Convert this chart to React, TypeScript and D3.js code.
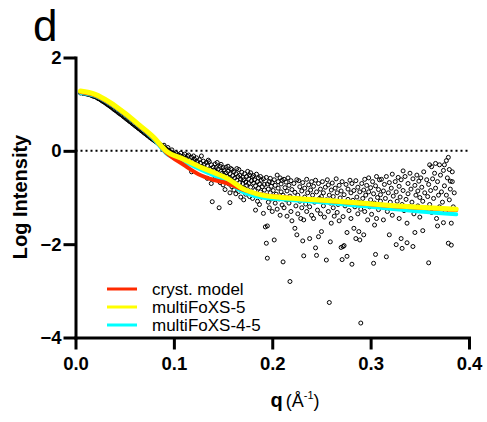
import React, { useEffect, useRef } from "react";
import * as d3 from "d3";

const xTicks = [0, 0.1, 0.2, 0.3, 0.4];
const yTicks = [-4, -2, 0, 2];

const qCurve = [0.005, 0.02, 0.035, 0.05, 0.065, 0.08, 0.092, 0.11, 0.125, 0.14, 0.155, 0.17, 0.19, 0.21, 0.23, 0.26, 0.29, 0.32, 0.35, 0.387];
const crystModel = [1.26, 1.19, 1.02, 0.79, 0.53, 0.26, -0.03, -0.3, -0.5, -0.62, -0.7, -0.83, -0.94, -0.99, -1.03, -1.08, -1.13, -1.18, -1.22, -1.27];
const multiFoXS5 = [1.28, 1.21, 1.04, 0.81, 0.55, 0.28, 0.0, -0.18, -0.33, -0.46, -0.6, -0.81, -0.95, -1.0, -1.03, -1.07, -1.12, -1.17, -1.21, -1.25];
const multiFoXS45 = [1.24, 1.18, 1.01, 0.78, 0.52, 0.24, -0.05, -0.22, -0.38, -0.52, -0.68, -0.88, -1.0, -1.04, -1.07, -1.12, -1.18, -1.24, -1.3, -1.36];

const seriesNames = ["cryst. model", "multiFoXS-5", "multiFoXS-4-5"];
const seriesColors = ["#ff2a00", "#ffff00", "#00ffff"];

const scatter: [number, number][] = [
  [0.005, 1.24], [0.006, 1.25], [0.007, 1.24], [0.008, 1.23], [0.009, 1.24], [0.01, 1.23], [0.011, 1.22], [0.012, 1.22],
  [0.013, 1.21], [0.014, 1.21], [0.015, 1.2], [0.016, 1.19], [0.017, 1.19], [0.018, 1.17], [0.019, 1.17], [0.02, 1.16],
  [0.021, 1.15], [0.022, 1.14], [0.023, 1.12], [0.024, 1.12], [0.025, 1.1], [0.026, 1.09], [0.027, 1.07], [0.028, 1.06],
  [0.029, 1.05], [0.03, 1.03], [0.031, 1.02], [0.032, 1.0], [0.033, 0.99], [0.034, 0.97], [0.035, 0.96], [0.036, 0.94],
  [0.037, 0.93], [0.038, 0.91], [0.039, 0.89], [0.04, 0.88], [0.041, 0.86], [0.042, 0.85], [0.043, 0.83], [0.044, 0.81],
  [0.045, 0.8], [0.046, 0.78], [0.047, 0.77], [0.048, 0.75], [0.049, 0.73], [0.05, 0.72], [0.051, 0.7], [0.052, 0.68],
  [0.053, 0.67], [0.054, 0.65], [0.055, 0.63], [0.056, 0.62], [0.057, 0.6], [0.058, 0.58], [0.059, 0.57], [0.06, 0.55],
  [0.061, 0.53], [0.062, 0.52], [0.063, 0.5], [0.064, 0.48], [0.065, 0.47], [0.066, 0.45], [0.067, 0.43], [0.068, 0.42],
  [0.069, 0.4], [0.07, 0.38], [0.071, 0.37], [0.072, 0.35], [0.073, 0.33], [0.074, 0.32], [0.075, 0.3], [0.076, 0.28],
  [0.077, 0.27], [0.078, 0.25], [0.079, 0.24], [0.08, 0.22], [0.081, 0.21], [0.082, 0.19], [0.083, 0.18], [0.084, 0.16],
  [0.085, 0.15], [0.086, 0.13], [0.087, 0.12], [0.088, 0.1], [0.089, 0.09], [0.09, 0.07], [0.09, 0.12], [0.091, 0.06],
  [0.092, 0.04], [0.093, 0.03], [0.094, 0.07], [0.094, 0.01], [0.095, 0.0], [0.096, -0.02], [0.097, -0.03], [0.098, 0.02],
  [0.098, -0.05], [0.099, -0.06],
  [0.1, -0.06], [0.101, -0.1], [0.102, -0.04], [0.103, -0.12], [0.104, -0.08], [0.105, -0.15], [0.106, -0.1], [0.107, -0.05],
  [0.108, -0.13], [0.109, -0.18], [0.11, -0.11], [0.111, -0.07], [0.112, -0.16], [0.113, -0.21], [0.114, -0.12], [0.115, -0.09],
  [0.116, -0.19], [0.117, -0.25], [0.118, -0.14], [0.118, -0.45], [0.119, -0.22], [0.12, -0.11], [0.121, -0.18], [0.122, -0.27],
  [0.123, -0.15], [0.124, -0.23], [0.125, -0.31], [0.126, -0.19], [0.127, -0.26], [0.128, -0.11], [0.129, -0.34], [0.13, -0.22],
  [0.131, -0.29], [0.132, -0.38], [0.133, -0.25], [0.134, -0.59], [0.134, -0.32], [0.135, -0.2], [0.136, -0.23], [0.137, -0.4],
  [0.138, -0.7], [0.138, -0.3], [0.139, -1.09], [0.139, -0.45], [0.14, -0.35],
  [0.141, -0.41], [0.142, -0.28], [0.142, -0.55], [0.143, -0.36], [0.144, -0.47], [0.144, -0.25], [0.145, -0.62], [0.145, -0.39],
  [0.146, -0.51], [0.146, -1.22], [0.147, -0.33], [0.147, -0.68], [0.148, -0.44], [0.148, -0.29], [0.149, -0.57], [0.149, -0.48],
  [0.15, -0.36], [0.15, -0.73],
  [0.151, -0.52], [0.151, -0.41], [0.152, -0.83], [0.152, -0.6], [0.153, -0.47], [0.153, -0.35], [0.154, -0.66], [0.154, -0.55],
  [0.155, -0.33], [0.155, -0.44], [0.156, -0.71], [0.156, -0.58], [0.157, -0.9], [0.157, -1.11], [0.157, -0.49], [0.158, -0.62],
  [0.158, -0.38], [0.159, -0.4], [0.159, -0.77], [0.16, -0.53], [0.16, -0.66],
  [0.161, -0.45], [0.161, -0.84], [0.162, -0.58], [0.162, -0.7], [0.163, -0.49], [0.163, -0.92], [0.164, -0.63], [0.164, -0.38],
  [0.165, -0.76], [0.165, -0.55], [0.166, -0.4], [0.166, -0.87], [0.167, -0.68], [0.167, -0.52], [0.168, -0.99], [0.168, -0.61],
  [0.169, -0.46], [0.169, -0.79], [0.17, -0.57], [0.17, -0.7],
  [0.171, -1.05], [0.171, -0.62], [0.172, -0.49], [0.172, -0.81], [0.173, -0.67], [0.173, -0.93], [0.174, -0.55], [0.174, -0.74],
  [0.175, -0.44], [0.175, -0.87], [0.176, -0.6], [0.176, -0.7], [0.177, -0.98], [0.177, -0.52], [0.178, -0.47], [0.178, -0.78],
  [0.179, -0.64], [0.179, -0.9], [0.18, -0.56], [0.18, -1.02],
  [0.181, -0.69], [0.181, -0.53], [0.182, -0.85], [0.182, -0.62], [0.183, -1.27], [0.183, -0.75], [0.184, -0.5], [0.184, -0.94],
  [0.185, -0.66], [0.185, -1.08], [0.186, -0.58], [0.186, -0.8], [0.187, -0.71], [0.187, -1.15], [0.188, -0.55], [0.188, -0.88],
  [0.189, -0.63], [0.189, -0.99], [0.19, -0.77], [0.191, -1.34],
  [0.191, -0.6], [0.192, -0.84], [0.192, -0.72], [0.193, -1.63], [0.193, -0.95], [0.194, -1.98], [0.194, -0.57], [0.195, -2.3],
  [0.195, -1.61], [0.195, -0.71], [0.196, -1.1], [0.196, -0.82], [0.197, -0.66], [0.197, -1.22], [0.198, -0.9], [0.198, -0.59],
  [0.199, -1.03], [0.199, -0.76], [0.2, -0.68], [0.2, -1.3],
  [0.201, -0.85], [0.202, -1.91], [0.202, -0.62], [0.203, -1.12], [0.203, -0.74], [0.204, -0.93], [0.205, -0.52], [0.205, -1.25],
  [0.206, -0.8], [0.206, -0.66], [0.207, -1.03], [0.208, -0.58], [0.208, -1.38], [0.209, -0.88], [0.209, -0.71], [0.21, -1.16],
  [0.21, -0.63],
  [0.211, -2.38], [0.211, -0.95], [0.212, -0.61], [0.212, -1.22], [0.213, -0.79], [0.214, -1.05], [0.214, -0.67], [0.215, -1.4],
  [0.215, -0.86], [0.216, -0.58], [0.217, -1.12], [0.217, -0.74], [0.218, -2.8], [0.218, -0.97], [0.219, -1.3], [0.219, -0.64],
  [0.22, -0.83], [0.22, -1.5],
  [0.221, -1.02], [0.222, -0.7], [0.223, -1.66], [0.223, -0.89], [0.224, -1.18], [0.225, -1.8], [0.225, -0.62], [0.226, -1.35],
  [0.226, -0.95], [0.227, -0.64], [0.228, -1.08], [0.228, -0.77], [0.229, -1.45], [0.23, -0.86], [0.23, -1.22],
  [0.231, -1.93], [0.231, -0.68], [0.232, -2.25], [0.232, -1.48], [0.233, -0.99], [0.233, -0.8], [0.234, -1.14], [0.235, -0.61],
  [0.235, -1.3], [0.236, -0.9], [0.237, -0.73], [0.237, -1.06], [0.238, -1.88], [0.238, -1.2], [0.239, -0.84], [0.24, -0.66],
  [0.24, -1.38],
  [0.241, -0.95], [0.242, -1.45], [0.242, -0.76], [0.243, -1.1], [0.244, -2.08], [0.244, -0.63], [0.245, -2.24], [0.245, -0.88],
  [0.246, -1.27], [0.247, -1.84], [0.247, -0.7], [0.248, -1.02], [0.249, -1.35], [0.249, -0.82], [0.25, -1.73], [0.25, -0.98],
  [0.251, -0.66], [0.252, -1.18], [0.252, -0.9], [0.253, -1.42], [0.254, -0.78], [0.255, -2.34], [0.255, -1.05], [0.256, -0.62],
  [0.257, -0.73], [0.257, -1.3], [0.258, -3.25], [0.258, -0.95], [0.259, -1.95], [0.259, -1.12], [0.26, -0.84], [0.26, -1.55],
  [0.261, -0.69], [0.262, -1.22], [0.262, -0.98], [0.263, -1.4], [0.264, -0.8], [0.264, -1.08], [0.265, -0.6], [0.266, -1.32],
  [0.266, -0.9], [0.267, -1.15], [0.268, -0.74], [0.268, -1.5], [0.269, -1.01], [0.27, -2.07], [0.27, -0.86],
  [0.271, -2.33], [0.271, -0.66], [0.272, -2.05], [0.272, -1.41], [0.273, -2.03], [0.273, -0.94], [0.274, -1.18], [0.275, -0.72],
  [0.276, -2.26], [0.276, -1.75], [0.277, -1.04], [0.277, -0.82], [0.278, -1.28], [0.279, -0.63], [0.279, -1.12], [0.28, -0.9],
  [0.28, -1.45],
  [0.281, -2.43], [0.281, -0.7], [0.282, -1.06], [0.283, -1.66], [0.283, -0.85], [0.284, -1.2], [0.285, -1.88], [0.285, -0.64],
  [0.286, -0.99], [0.287, -1.35], [0.287, -0.78], [0.288, -1.73], [0.288, -1.1], [0.289, -1.91], [0.289, -0.88], [0.29, -3.69],
  [0.29, -1.25],
  [0.291, -0.7], [0.292, -1.02], [0.293, -1.8], [0.293, -0.84], [0.294, -0.61], [0.294, -1.3], [0.295, -0.95], [0.296, -1.14],
  [0.296, -0.74], [0.297, -1.48], [0.298, -0.88], [0.298, -0.58], [0.299, -1.2], [0.3, -1.05], [0.3, -0.79],
  [0.301, -1.36], [0.302, -0.66], [0.303, -2.41], [0.303, -0.92], [0.304, -1.59], [0.304, -1.12], [0.305, -2.22], [0.305, -0.75],
  [0.306, -1.45], [0.306, -0.55], [0.307, -1.0], [0.308, -1.26], [0.308, -0.83], [0.309, -0.62], [0.31, -1.08], [0.31, -0.94],
  [0.311, -0.61], [0.312, -1.17], [0.313, -1.48], [0.313, -0.86], [0.314, -0.72], [0.315, -1.02], [0.316, -2.27], [0.316, -0.55],
  [0.317, -1.3], [0.318, -0.9], [0.319, -1.8], [0.319, -0.68], [0.32, -1.1],
  [0.321, -0.8], [0.322, -1.38], [0.322, -0.5], [0.323, -0.97], [0.324, -1.2], [0.325, -0.66], [0.326, -2.01], [0.326, -0.88],
  [0.327, -1.08], [0.328, -0.57], [0.329, -1.45], [0.329, -0.76], [0.33, -0.99],
  [0.331, -1.88], [0.331, -0.62], [0.332, -2.09], [0.332, -1.15], [0.333, -0.43], [0.333, -0.85], [0.334, -1.28], [0.335, -0.55],
  [0.336, -1.04], [0.337, -1.97], [0.337, -1.55], [0.338, -0.7], [0.338, -0.92], [0.339, -1.2], [0.34, -0.48],
  [0.341, -0.82], [0.342, -1.1], [0.343, -0.6], [0.343, -2.05], [0.344, -1.35], [0.345, -1.75], [0.345, -0.74], [0.346, -0.95],
  [0.347, -0.52], [0.348, -1.18], [0.348, -0.86], [0.349, -0.65], [0.35, -1.42], [0.35, -1.0],
  [0.351, -0.58], [0.352, -0.78], [0.353, -1.71], [0.353, -1.08], [0.354, -0.45], [0.355, -0.9], [0.356, -1.25], [0.357, -0.62],
  [0.358, -0.98], [0.359, -2.4], [0.359, -0.72], [0.36, -0.3], [0.36, -1.15],
  [0.361, -0.85], [0.362, -0.34], [0.362, -1.32], [0.363, -0.6], [0.364, -1.02], [0.365, -0.48], [0.366, -0.27], [0.366, -0.8],
  [0.367, -1.45], [0.368, -1.61], [0.368, -0.66], [0.369, -0.95], [0.37, -0.3], [0.37, -1.2],
  [0.371, -0.52], [0.372, -0.88], [0.373, -1.1], [0.374, -1.54], [0.374, -0.42], [0.375, -0.3], [0.375, -0.75], [0.376, -1.3],
  [0.377, -0.21], [0.377, -0.95], [0.378, -0.58], [0.379, -0.14], [0.379, -1.98], [0.38, -0.4], [0.38, -1.05], [0.381, -0.65],
  [0.381, -0.82], [0.382, -1.55], [0.382, -2.02], [0.383, -0.45], [0.383, -0.66], [0.384, -1.2], [0.385, -0.9],
];

const W = 487;
const H = 422;
const FONT = "'Liberation Sans', Arial, Helvetica, sans-serif";

export default function App() {
  const xAxisRef = useRef<SVGGElement>(null);
  const yAxisRef = useRef<SVGGElement>(null);

  const x = d3.scaleLinear().domain([0, 0.4]).range([75.5, 469]);
  const y = d3.scaleLinear().domain([-4, 2]).range([337.5, 57.5]);

  useEffect(() => {
    const xa = d3.select(xAxisRef.current!);
    xa.call(
      d3.axisBottom(x).tickValues(xTicks).tickFormat(d3.format(".1f")).tickSize(12).tickSizeOuter(0).tickPadding(7) as any
    );
    const ya = d3.select(yAxisRef.current!);
    ya.call(
      d3.axisLeft(y).tickValues(yTicks).tickFormat(d3.format("d")).tickSize(12).tickSizeOuter(0).tickPadding(2) as any
    );
    [xa, ya].forEach((g) => {
      g.select(".domain").attr("stroke", "#000").attr("stroke-width", 3).attr("stroke-linecap", "square");
      g.selectAll(".tick line").attr("stroke", "#000").attr("stroke-width", 3);
      g.selectAll(".tick text")
        .attr("fill", "#000")
        .attr("font-family", FONT)
        .attr("font-weight", "bold")
        .attr("font-size", 18.5);
    });
  }, []);

  const line = d3
    .line<number>()
    .x((_, i) => x(qCurve[i]))
    .y((d) => y(d))
    .curve(d3.curveMonotoneX);

  const series = [crystModel, multiFoXS5, multiFoXS45];
  const drawOrder = [2, 0, 1];
  const widths = [4, 5, 4];

  return (
    <svg
      width={W}
      height={H}
      style={{ position: "absolute", left: 0, top: 0, background: "#fff" }}
      fontFamily={FONT}
    >
      <text x={33} y={41} fontSize={44} fill="#000">d</text>

      <line
        x1={x(0)}
        x2={x(0.4)}
        y1={y(0)}
        y2={y(0)}
        stroke="#000"
        strokeWidth={2}
        strokeDasharray="2,3"
      />

      <g>
        {scatter.map((d, i) => (
          <circle key={i} cx={x(d[0])} cy={y(d[1])} r={2} fill="none" stroke="#000" strokeWidth={1} />
        ))}
      </g>

      {drawOrder.map((si) => (
        <path
          key={si}
          d={line(series[si]) || ""}
          fill="none"
          stroke={seriesColors[si]}
          strokeWidth={widths[si]}
          strokeLinecap="round"
        />
      ))}

      <g ref={xAxisRef} transform={`translate(0,${y(-4)})`} />
      <g ref={yAxisRef} transform={`translate(${x(0)},0)`} />

      <text
        transform={`translate(27,197) rotate(-90)`}
        textAnchor="middle"
        fontSize={20}
        fontWeight="bold"
        fill="#000"
      >
        Log Intensity
      </text>

      <text x={295} y={407} textAnchor="middle" fill="#000">
        <tspan fontWeight="bold" fontSize={20}>q</tspan>
        <tspan fontSize={18} dx={3}>(Å</tspan>
        <tspan fontSize={11} dy={-8}>-1</tspan>
        <tspan fontSize={18} dy={8}>)</tspan>
      </text>

      {seriesNames.map((name, i) => (
        <g key={name} transform={`translate(0,${289 + i * 18})`}>
          <line x1={107} x2={137} y1={0} y2={0} stroke={seriesColors[i]} strokeWidth={3} />
          <text x={152} y={6} fontSize={17} fill="#000">{name}</text>
        </g>
      ))}
    </svg>
  );
}
